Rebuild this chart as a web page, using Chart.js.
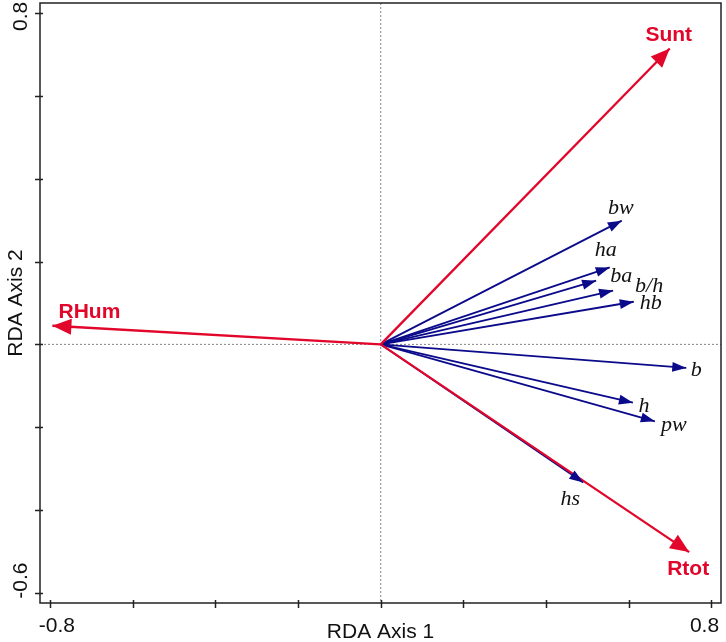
<!DOCTYPE html>
<html>
<head>
<meta charset="utf-8">
<script src="https://cdn.jsdelivr.net/npm/chart.js@4.4.1/dist/chart.umd.min.js"></script>
<style>
  html, body { margin: 0; padding: 0; background: #fff; }
  canvas { display: block; }
</style>
</head>
<body>
<canvas id="c" width="726" height="642"></canvas>
<script>
// ---- data ----
const speciesLabels = ['bw', 'ha', 'ba', 'b/h', 'hb', 'b', 'h', 'pw', 'hs'];
const speciesAxis1  = [0.583, 0.554, 0.521, 0.562, 0.612, 0.739, 0.610, 0.663, 0.490];
const speciesAxis2  = [0.299, 0.186, 0.154, 0.130, 0.103, -0.057, -0.141, -0.186, -0.334];

const envLabels = ['Sunt', 'RHum', 'Rtot'];
const envAxis1  = [0.699, -0.794, 0.746];
const envAxis2  = [0.715, 0.045, -0.502];

const xTicks = [-0.8, -0.6, -0.4, -0.2, 0, 0.2, 0.4, 0.6, 0.8];
const yTicks = [-0.6, -0.4, -0.2, 0, 0.2, 0.4, 0.6, 0.8];
const xTickLabels = ['-0.8', '', '', '', '', '', '', '', '0.8'];
const yTickLabels = ['-0.6', '', '', '', '', '', '', '0.8'];
const xTitle = 'RDA Axis 1';
const yTitle = 'RDA Axis 2';

// ---- styling (pixel offsets of labels from arrow tips: [dx, dy-baseline]) ----
const envLabelOffsets = [[-1, -8], [37, -8], [-1, 23]];
const speciesLabelOffsets = [[-1, -7], [-4, -11], [25, 1], [36, 1], [17, 7], [10, 8], [11, 9], [19, 10], [-13, 22]];
const RED = '#e2062b';
const BLUE = '#0a0a8a';

const datasets = [];
envLabels.forEach((lab, i) => {
  datasets.push({
    label: lab, kind: 'env', idx: i,
    data: [{x: 0, y: 0}, {x: envAxis1[i], y: envAxis2[i]}],
    showLine: true, borderColor: RED, borderWidth: 2.3,
    pointRadius: 0, pointHoverRadius: 0, order: 0
  });
});
speciesLabels.forEach((lab, i) => {
  datasets.push({
    label: lab, kind: 'sp', idx: i,
    data: [{x: 0, y: 0}, {x: speciesAxis1[i], y: speciesAxis2[i]}],
    showLine: true, borderColor: BLUE, borderWidth: 1.8,
    pointRadius: 0, pointHoverRadius: 0, order: 1
  });
});

const biplot = {
  id: 'biplot',
  beforeDatasetsDraw(chart) {
    const {ctx, chartArea: a, scales: {x, y}} = chart;
    ctx.save();
    ctx.strokeStyle = '#666';
    ctx.lineWidth = 0.8;
    ctx.setLineDash([2, 2]);
    const x0 = x.getPixelForValue(0), y0 = y.getPixelForValue(0);
    ctx.beginPath();
    ctx.moveTo(x0, a.top); ctx.lineTo(x0, a.bottom);
    ctx.moveTo(a.left, y0); ctx.lineTo(a.right, y0);
    ctx.stroke();
    ctx.restore();
  },
  afterDatasetsDraw(chart) {
    const {ctx} = chart;
    ctx.save();
    // arrowheads + labels, drawn from the points placed by the scales
    for (let d = chart.data.datasets.length - 1; d >= 0; d--) {
      const ds = chart.data.datasets[d];
      const meta = chart.getDatasetMeta(d);
      const p0 = meta.data[0], p1 = meta.data[1];
      const ang = Math.atan2(p1.y - p0.y, p1.x - p0.x);
      const isEnv = ds.kind === 'env';
      const L = isEnv ? 19 : 14, W = isEnv ? 8 : 5;
      const bx = p1.x - L * Math.cos(ang), by = p1.y - L * Math.sin(ang);
      const nx = -Math.sin(ang), ny = Math.cos(ang);
      ctx.fillStyle = isEnv ? RED : BLUE;
      ctx.beginPath();
      ctx.moveTo(p1.x, p1.y);
      ctx.lineTo(bx + W * nx, by + W * ny);
      ctx.lineTo(bx - W * nx, by - W * ny);
      ctx.closePath();
      ctx.fill();
    }
    ctx.textAlign = 'center';
    ctx.textBaseline = 'alphabetic';
    chart.data.datasets.forEach((ds, d) => {
      const p1 = chart.getDatasetMeta(d).data[1];
      if (ds.kind === 'env') {
        const o = envLabelOffsets[ds.idx];
        ctx.font = 'bold 21px "Liberation Sans", Arial, sans-serif';
        ctx.fillStyle = RED;
        ctx.fillText(ds.label, p1.x + o[0], p1.y + o[1]);
      } else {
        const o = speciesLabelOffsets[ds.idx];
        ctx.font = 'italic 22px "Liberation Serif", "Times New Roman", serif';
        ctx.fillStyle = '#111';
        ctx.fillText(ds.label, p1.x + o[0], p1.y + o[1]);
      }
    });
    ctx.restore();
  },
  afterDraw(chart) {
    const {ctx, chartArea: a, scales: {x, y}} = chart;
    ctx.save();
    ctx.strokeStyle = '#222';
    ctx.lineWidth = 1.5;
    ctx.setLineDash([]);
    ctx.strokeRect(a.left, a.top, a.right - a.left, a.bottom - a.top);
    // ticks
    ctx.beginPath();
    xTicks.forEach(v => {
      const px = Math.round(x.getPixelForValue(v)) + 0.5;
      ctx.moveTo(px, a.bottom - 3); ctx.lineTo(px, a.bottom + 5);
    });
    yTicks.forEach(v => {
      const py = Math.round(y.getPixelForValue(v)) + 0.5;
      ctx.moveTo(a.left - 5, py); ctx.lineTo(a.left + 3, py);
    });
    ctx.stroke();
    // tick labels
    ctx.fillStyle = '#111';
    ctx.font = '21px "Liberation Sans", Arial, sans-serif';
    ctx.textBaseline = 'alphabetic';
    ctx.textAlign = 'center';
    xTicks.forEach((v, i) => {
      const t = xTickLabels[i];
      if (!t) return;
      const px = x.getPixelForValue(v);
      const shift = i === 0 ? 7 : -7;
      ctx.fillText(t, px + shift, a.bottom + 29);
    });
    yTicks.forEach((v, i) => {
      const t = yTickLabels[i];
      if (!t) return;
      const py = y.getPixelForValue(v);
      const shift = i === 0 ? -12 : 3;
      ctx.save();
      ctx.translate(a.left - 13, py + shift);
      ctx.rotate(-Math.PI / 2);
      ctx.fillText(t, 0, 0);
      ctx.restore();
    });
    // titles
    ctx.fillText(xTitle, (a.left + a.right) / 2, a.bottom + 35);
    ctx.save();
    ctx.translate(22, (a.top + a.bottom) / 2);
    ctx.rotate(-Math.PI / 2);
    ctx.fillText(yTitle, 0, 0);
    ctx.restore();
    ctx.restore();
  }
};

new Chart(document.getElementById('c'), {
  type: 'scatter',
  data: { datasets },
  options: {
    responsive: false,
    devicePixelRatio: 1,
    animation: false,
    events: [],
    layout: { padding: { left: 40, right: 5, top: 3, bottom: 39 } },
    plugins: { legend: { display: false }, tooltip: { enabled: false } },
    scales: {
      x: { type: 'linear', min: -0.824, max: 0.823, display: false },
      y: { type: 'linear', min: -0.625, max: 0.825, display: false }
    }
  },
  plugins: [biplot]
});
</script>
</body>
</html>
